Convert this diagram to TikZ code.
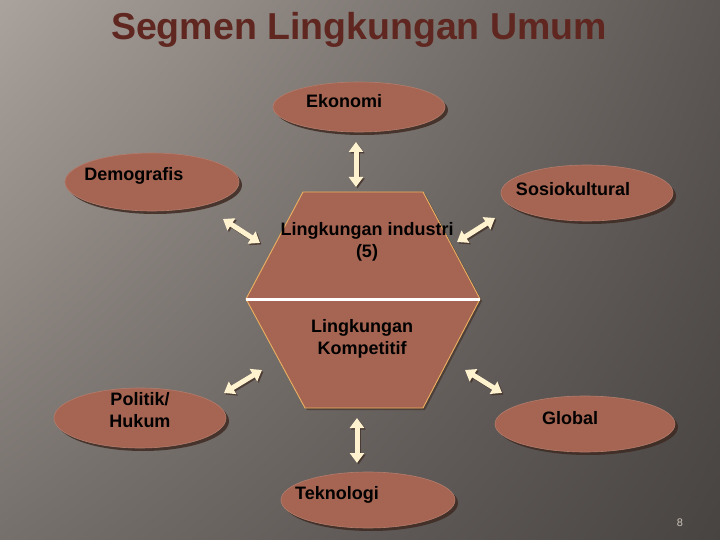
\documentclass[tikz,border=0pt]{standalone}
\usepackage{fontspec}
\setmainfont{Liberation Sans}
\usetikzlibrary{arrows.meta,shapes.geometric,shadows,shadings,calc}

\definecolor{bata}{RGB}{166,101,82}
\definecolor{bayang}{RGB}{62,42,34}
\definecolor{krem}{RGB}{255,242,206}
\definecolor{judul}{RGB}{96,38,32}
\definecolor{emas}{RGB}{236,176,96}
\definecolor{bgA}{RGB}{170,162,156}
\definecolor{bgB}{RGB}{92,87,84}
\definecolor{bgC}{RGB}{118,112,108}
\definecolor{bgD}{RGB}{72,68,66}
\definecolor{nomor}{RGB}{205,196,186}

\begin{document}
\begin{tikzpicture}[x=1pt,y=-1pt,
    oval/.style={ellipse, inner sep=0pt, fill=bata, draw=bata!85!white, line width=0.6pt,
        drop shadow={shadow xshift=3pt, shadow yshift=-3pt, fill=bayang, opacity=0.85}},
    teks/.style={font=\bfseries\fontsize{18}{22}\selectfont, align=center, text=black},
    link/.style={color=krem, line width=5pt,
        {Triangle[length=10pt,width=14pt]}-{Triangle[length=10pt,width=14pt]}},
    linkshadow/.style={link, color=bayang, opacity=0.7}]

    % background
    \useasboundingbox (0,0) rectangle (720,540);
    \shade[upper left=bgA, upper right=bgB, lower left=bgC, lower right=bgD]
        (0,0) rectangle (720,540);

    \node[font=\bfseries\fontsize{37.5}{42}\selectfont, text=judul] (judul) at (359,30) {Segmen Lingkungan Umum};
    \node[font=\fontsize{11}{13}\selectfont, text=nomor] (hal) at (680,523) {8};

    % the outer segments
    \foreach \n/\cx/\cy/\rx/\ry in {eko/359/107/86/25, demo/152/182/87/29, sosio/587/193/86/28,
                                   poli/140/418/86/30, glob/585/424/90/28, tekno/368/500/87/28}
        \node[oval, minimum width=2*\rx pt, minimum height=2*\ry pt] (\n) at (\cx,\cy) {};

    \node[teks] (eko-t)   at (344,101) {Ekonomi};
    \node[teks] (demo-t)  at (134,176) {Demografis};
    \node[teks] (sosio-t) at (573,189) {Sosiokultural};
    \node[teks] (poli-t)  at (140,410) {Politik/\\Hukum};
    \node[teks] (glob-t)  at (570,418) {Global};
    \node[teks] (tekno-t) at (337,495) {Teknologi};

    % the hexagon
    \coordinate (h1) at (303,192);
    \coordinate (h2) at (423,192);
    \coordinate (h3) at (480,299);
    \coordinate (h4) at (423,408);
    \coordinate (h5) at (305,408);
    \coordinate (h6) at (246,299);
    \fill[bata, drop shadow={shadow xshift=2pt, shadow yshift=-2pt, fill=bayang, opacity=0.6}]
        (h1) -- (h2) -- (h3) -- (h4) -- (h5) -- (h6) -- cycle;
    \draw[emas, line width=0.9pt] (h1) -- (h2) -- (h3) -- (h4) -- (h5) -- (h6) -- cycle;
    \draw[white, line width=3pt] (h6) -- (h3);

    \node[teks] (ind)  at (367,242) {Lingkungan industri\\(5)};
    \node[teks] (komp) at (362,339) {Lingkungan\\Kompetitif};

    % arrows
    \foreach \n/\xa/\ya/\xb/\yb in {ul/223/219/260/243, up/356/142/356/187, ur/457/242/495/218,
                                   ll/224/393/262/370, lr/465/370/502/393, dn/357/418/357/463} {
        \coordinate (\n-a) at (\xa,\ya);
        \coordinate (\n-b) at (\xb,\yb);
        \draw[linkshadow] ($(\n-a)+(1.5,1.5)$) -- ($(\n-b)+(1.5,1.5)$);
        \draw[link] (\n-a) -- (\n-b);
    }
\end{tikzpicture}
\end{document}
